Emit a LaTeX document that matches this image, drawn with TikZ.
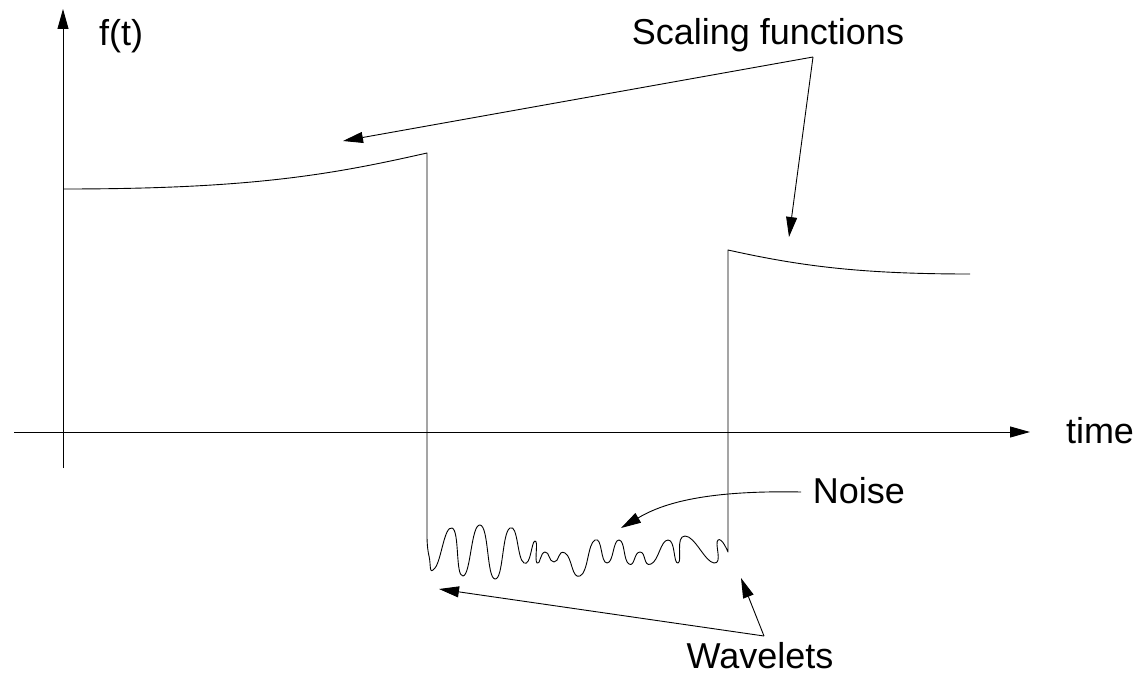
\documentclass[tikz,border=0pt]{standalone}
\usepackage{fontspec}
\setmainfont{Liberation Sans}
\usetikzlibrary{arrows.meta}
\begin{document}
\begin{tikzpicture}[x=1pt,y=-1pt,
  arr/.style={-{Triangle[length=20pt,width=11pt]}, line width=0.9pt},
  sig/.style={line width=0.9pt, line join=round},
  lbl/.style={font=\fontsize{36}{42}\selectfont, inner sep=0pt, anchor=base}]
\useasboundingbox (0,0) rectangle (1138,677);
% labels
\node[lbl] (ft) at (121,46) {f(t)};
\node[lbl] (scal) at (768,45) {Scaling functions};
\node[lbl] (time) at (1100,443) {time};
\node[lbl] (noise) at (859,503) {Noise};
\node[lbl] (wave) at (760,668) {Wavelets};
% axes
\coordinate (yb) at (63,468);
\coordinate (yt) at (63,9);
\coordinate (xl) at (14,432);
\coordinate (xr) at (1030,432);
\draw[arr] (yb) -- (yt);
\draw[arr] (xl) -- (xr);
% signal
\draw[sig] (63,189) .. controls (250,189) and (330,175) .. (427,153)
  -- (427,535)
  -- plot[smooth, tension=1] coordinates {(427,535) (429,556) (435,568) (452,528) (463,576) (480,525) (495,579) (510,528) (524,563) (535,541) (537,563) (545,552) (554,562) (565,553) (580,576) (595,540) (607,563) (619,540) (629,564) (640,552) (651,564) (668,540) (678,563) (685,536) (714,563) (718,540) (728,552)}
  -- (728,250) .. controls (800,266) and (860,274) .. (970,274);
% annotation arrows
\coordinate (sj) at (813,57);
\coordinate (st1) at (343,141);
\coordinate (st2) at (789,237);
\draw[arr] (sj) -- (st1);
\draw[arr] (sj) -- (st2);
\coordinate (ns) at (801,492);
\coordinate (nt) at (621,528);
\draw[arr] (ns) .. controls (700,490) and (660,505) .. (nt);
\coordinate (wj) at (764,636);
\coordinate (wt1) at (741,578);
\coordinate (wt2) at (439,589);
\draw[arr] (wj) -- (wt1);
\draw[arr] (wj) -- (wt2);
\end{tikzpicture}
\end{document}
